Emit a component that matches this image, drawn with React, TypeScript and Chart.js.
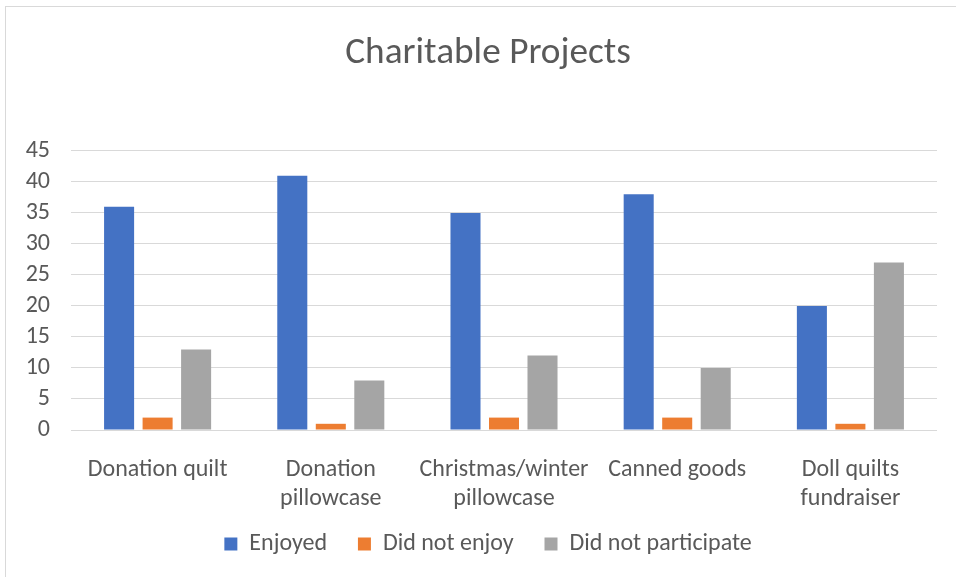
import React, { useEffect, useRef } from "react";
import { Chart, registerables } from "chart.js";

Chart.register(...registerables);

const categories: (string | string[])[] = [
  "Donation quilt",
  ["Donation", "pillowcase"],
  ["Christmas/winter", "pillowcase"],
  "Canned goods",
  ["Doll quilts", "fundraiser"],
];
const enjoyed = [36, 41, 35, 38, 20];
const didNotEnjoy = [2, 1, 2, 2, 1];
const didNotParticipate = [13, 8, 12, 10, 27];
const seriesNames = ["Enjoyed", "Did not enjoy", "Did not participate"];
const yTicks = [0, 5, 10, 15, 20, 25, 30, 35, 40, 45];

const FONT = "Carlito, Calibri, 'Open Sans', sans-serif";
const TEXT = "#595959";

export default function App() {
  const ref = useRef<HTMLCanvasElement | null>(null);

  useEffect(() => {
    if (!ref.current) return;
    const chart = new Chart(ref.current, {
      type: "bar",
      data: {
        labels: categories,
        datasets: [
          { label: seriesNames[0], data: enjoyed, backgroundColor: "#4472C4" },
          { label: seriesNames[1], data: didNotEnjoy, backgroundColor: "#ED7D31" },
          { label: seriesNames[2], data: didNotParticipate, backgroundColor: "#A5A5A5" },
        ],
      },
      options: {
        animation: false,
        responsive: false,
        maintainAspectRatio: false,
        datasets: { bar: { categoryPercentage: 0.667, barPercentage: 0.78 } },
        layout: { padding: { left: 20, right: 0, top: 0, bottom: 11 } },
        plugins: {
          tooltip: { enabled: false },
          title: {
            display: true,
            text: "Charitable Projects",
            color: TEXT,
            font: { family: FONT, size: 37.3, weight: "normal", lineHeight: 1.2 },
            padding: { top: 31.3, bottom: 74.9 },
          },
          legend: {
            position: "bottom",
            labels: {
              color: TEXT,
              font: { family: FONT, size: 24 },
              boxWidth: 13,
              boxHeight: 13,
              padding: 20,
              generateLabels: (c: any) => {
                const items = Chart.defaults.plugins.legend.labels.generateLabels(c);
                return items.map((it: any, i: number) => ({
                  ...it,
                  text: i < items.length - 1 ? it.text + "  " : it.text,
                }));
              },
            },
          },
        },
        scales: {
          x: {
            grid: { display: false },
            border: { display: false },
            ticks: {
              color: TEXT,
              font: { family: FONT, size: 24, lineHeight: 29 / 24 },
              padding: 17.5,
              maxRotation: 0,
              autoSkip: false,
            },
            afterFit: (s: any) => {
              s.height = 82;
            },
          },
          y: {
            min: 0,
            max: 45,
            afterBuildTicks: (s: any) => {
              s.ticks = yTicks.map((v) => ({ value: v }));
            },
            grid: { color: "#d9d9d9", lineWidth: 1, drawTicks: false },
            border: { display: false },
            ticks: {
              color: TEXT,
              font: { family: FONT, size: 24 },
              padding: 21,
              autoSkip: false,
            },
            afterFit: (s: any) => {
              s.width = 51;
            },
          },
          pad: {
            type: "linear",
            position: "right",
            display: true,
            grid: { display: false },
            border: { display: false },
            ticks: { display: false },
            afterFit: (s: any) => {
              s.width = 19;
            },
          },
        },
      } as any,
    });
    return () => chart.destroy();
  }, []);

  return (
    <div
      style={{
        position: "fixed",
        left: 0,
        top: 0,
        width: 956,
        height: 577,
        overflow: "hidden",
        background: "#ffffff",
      }}
    >
      <div
        style={{
          position: "absolute",
          left: 5,
          top: 6,
          width: 1100,
          height: 1100,
          border: "1px solid #d9d9d9",
          boxSizing: "border-box",
        }}
      />
      <canvas
        ref={ref}
        width={956}
        height={577}
        style={{ position: "absolute", left: 0, top: 0, width: 956, height: 577 }}
      />
    </div>
  );
}
